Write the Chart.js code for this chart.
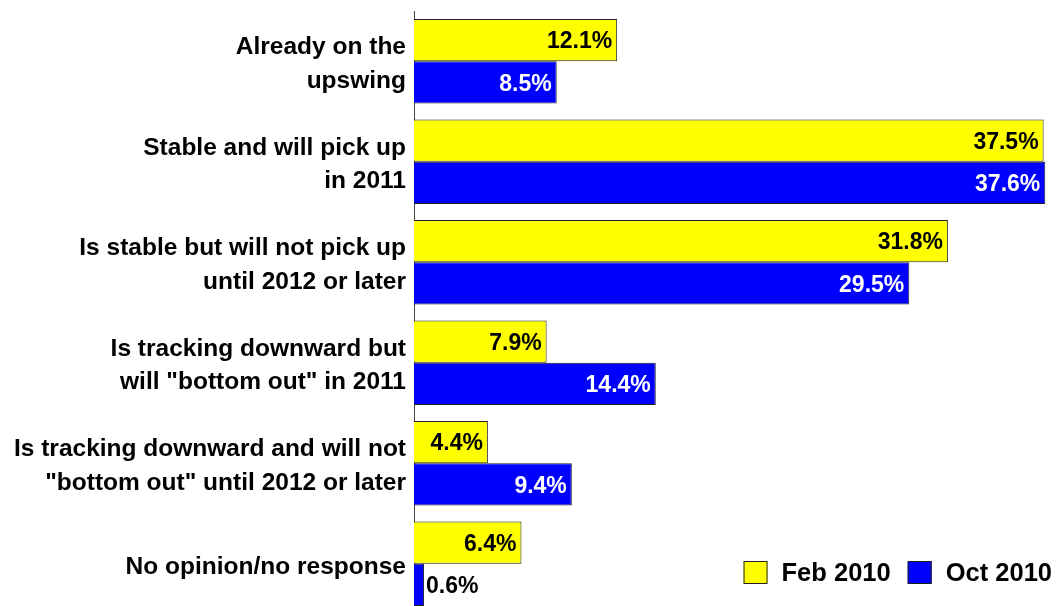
<!DOCTYPE html>
<html>
<head>
<meta charset="utf-8">
<script src="https://cdn.jsdelivr.net/npm/chart.js@4/dist/chart.umd.min.js"></script>
<style>
  html, body { margin: 0; padding: 0; background: #fff; overflow: hidden; }
  #wrap { position: relative; width: 1057px; height: 614px; }
</style>
</head>
<body>
<div id="wrap"><canvas id="chart"></canvas></div>
<script>
const categories = [
    ['Already on the', 'upswing'],
    ['Stable and will pick up', 'in 2011'],
    ['Is stable but will not pick up', 'until 2012 or later'],
    ['Is tracking downward but', 'will "bottom out" in 2011'],
    ['Is tracking downward and will not', '"bottom out" until 2012 or later'],
    'No opinion/no response'
];
const seriesNames = ['Feb 2010', 'Oct 2010'];
const feb2010 = [12.1, 37.5, 31.8, 7.9, 4.4, 6.4];
const oct2010 = [8.5, 37.6, 29.5, 14.4, 9.4, 0.6];

const FONT = '"Liberation Sans", Arial, Helvetica, sans-serif';
const YELLOW = '#FFFF00';
const BLUE = '#0000FF';

// percent labels at the inside end of each bar; too-short bars get it outside
const barLabels = {
    id: 'barLabels',
    afterDatasetsDraw(chart) {
        const ctx = chart.ctx;
        ctx.save();
        ctx.font = 'bold 23px ' + FONT;
        ctx.textBaseline = 'middle';
        chart.data.datasets.forEach((ds, di) => {
            const meta = chart.getDatasetMeta(di);
            meta.data.forEach((bar, i) => {
                const text = ds.data[i].toFixed(1) + '%';
                const w = ctx.measureText(text).width;
                if (bar.x - bar.base > w + 10) {
                    ctx.textAlign = 'right';
                    ctx.fillStyle = ds.labelColor;
                    ctx.fillText(text, bar.x - 5, bar.y + 2);
                } else {
                    ctx.textAlign = 'left';
                    ctx.fillStyle = '#000';
                    ctx.fillText(text, bar.x + 2, bar.y + 2);
                }
            });
        });
        ctx.restore();
    }
};

// legend sitting in the lower right corner of the plot
const cornerLegend = {
    id: 'cornerLegend',
    afterDraw(chart) {
        const ctx = chart.ctx;
        const area = chart.chartArea;
        ctx.save();
        ctx.font = 'bold 25.5px ' + FONT;
        ctx.textBaseline = 'middle';
        ctx.textAlign = 'left';
        const cy = 573;
        let x = area.right;
        for (let di = chart.data.datasets.length - 1; di >= 0; di--) {
            const ds = chart.data.datasets[di];
            const tw = ctx.measureText(ds.label).width;
            x -= tw;
            ctx.fillStyle = '#000';
            ctx.fillText(ds.label, x, cy + 1);
            x -= 14 + 24;
            ctx.fillStyle = ds.backgroundColor;
            ctx.fillRect(x, cy - 12, 24, 23);
            ctx.strokeStyle = '#222';
            ctx.lineWidth = 1;
            ctx.strokeRect(x + 0.5, cy - 11.5, 23, 22);
            x -= 17;
        }
        ctx.restore();
    }
};

new Chart(document.getElementById('chart'), {
    type: 'bar',
    data: {
        labels: categories,
        datasets: [
            {
                label: seriesNames[0],
                data: feb2010,
                backgroundColor: YELLOW,
                borderColor: '#222',
                borderWidth: 1,
                labelColor: '#000'
            },
            {
                label: seriesNames[1],
                data: oct2010,
                backgroundColor: BLUE,
                borderColor: '#222',
                borderWidth: 1,
                labelColor: '#fff'
            }
        ]
    },
    options: {
        indexAxis: 'y',
        responsive: true,
        maintainAspectRatio: false,
        animation: false,
        layout: { padding: { top: 11, right: 5, bottom: 0, left: 0 } },
        datasets: {
            bar: { barPercentage: 1, categoryPercentage: 0.84 }
        },
        plugins: {
            legend: { display: false },
            tooltip: { enabled: false }
        },
        scales: {
            x: {
                display: false,
                min: 0,
                max: 38
            },
            y: {
                grid: { display: false, drawTicks: false },
                border: { display: true, color: '#444', width: 1 },
                afterFit(scale) {
                    // fixed label column; labels may overhang the plot edges
                    scale.width = 414;
                    scale.paddingTop = 0;
                    scale.paddingBottom = 0;
                },
                ticks: {
                    color: '#000',
                    padding: 8,
                    labelOffset: 3,
                    font: { family: FONT, size: 24.5, weight: 'bold', lineHeight: 1.35 }
                }
            }
        }
    },
    plugins: [barLabels, cornerLegend]
});
</script>
</body>
</html>
